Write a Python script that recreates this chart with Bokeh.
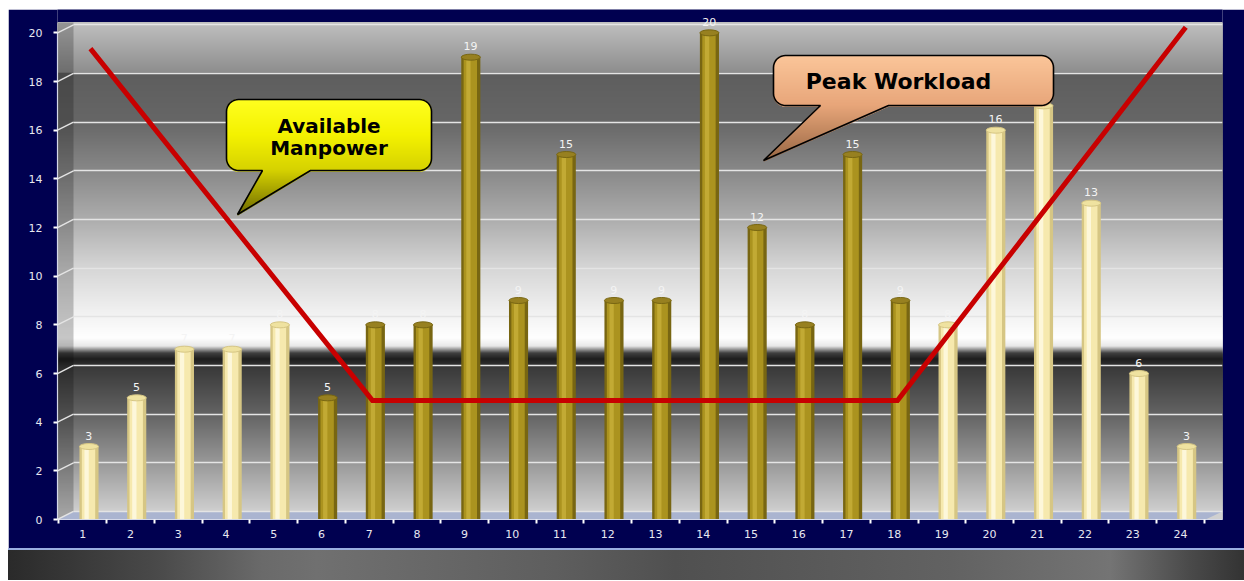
import numpy as np
from bokeh.plotting import figure
from bokeh.models import ColumnDataSource, Range1d, FixedTicker, LabelSet, Grid, Div
from bokeh.transform import dodge
from bokeh.layouts import column
from bokeh.core.properties import value
from bokeh.embed import file_html
from bokeh.resources import INLINE

# ---------------- data ----------------
hours = list(range(1, 25))
workload = [3, 5, 7, 7, 8, 5, 8, 8, 19, 9, 15, 9, 9, 20, 12, 8, 15, 9, 8, 16, 17, 13, 6, 3]
phase = ["off-peak"] * 5 + ["peak"] * 13 + ["off-peak"] * 6
manpower_x = [1.16, 7.07, 18.07, 24.11]
manpower_y = [19.35, 4.89, 4.89, 20.23]
y_ticks = list(range(0, 21, 2))

# ---------------- styles ----------------
NAVY = "#000050"
FONT = "DejaVu Sans"
edge_c = {"off-peak": "#d6c684", "peak": "#786612"}
main_c = {"off-peak": "#f6e9ae", "peak": "#ab931f"}
hi_c = {"off-peak": "#fdf7da", "peak": "#c2aa34"}
cap_c = {"off-peak": "#efe2a0", "peak": "#978020"}


def hex2rgb(c):
    return [int(c[1:3], 16), int(c[3:5], 16), int(c[5:7], 16)]


def interp_colors(stops, pts):
    sp = [s[0] for s in stops]
    rgb = np.array([hex2rgb(c) for _, c in stops], dtype=float)
    out = []
    for t in pts:
        r = np.interp(t, sp, rgb[:, 0])
        g = np.interp(t, sp, rgb[:, 1])
        b = np.interp(t, sp, rgb[:, 2])
        out.append("#%02x%02x%02x" % (int(r), int(g), int(b)))
    return out


W = 1236
H_MAIN = 539
H_BAND = 32
Y_TOP = 20.96

p = figure(width=W, height=H_MAIN, x_range=Range1d(0.47, 24.88), y_range=Range1d(0, Y_TOP),
           output_backend="svg", toolbar_location=None,
           min_border_left=49, min_border_right=22, min_border_top=0, min_border_bottom=29)
p.background_fill_color = NAVY
p.border_fill_color = NAVY
p.outline_line_color = None
p.extra_x_ranges = {"px": Range1d(57, 1222)}
p.extra_y_ranges = {"py": Range1d(519, 9), "back": Range1d(-0.33, Y_TOP - 0.33)}

# background metallic gradient (page-pixel coordinates)
bg_stops = [(22, "#c0c0c0"), (72, "#8e8e8e"), (73.5, "#5e5e5e"), (120, "#666666"),
            (170, "#888888"), (218, "#acacac"), (268, "#d6d6d6"), (317, "#f4f4f4"),
            (338, "#ffffff"), (346, "#e8e8e8"), (353, "#404040"), (359, "#1e1e1e"),
            (368, "#3a3a3a"), (415, "#646464"), (462, "#989898"), (512, "#d0d0d0"),
            (520, "#d0d0d0")]
ys = np.arange(22, 519, 1.0)
bg = ColumnDataSource(dict(top=ys, bottom=ys + 1.6, color=interp_colors(bg_stops, ys + 0.5)))
p.quad(left=57, right=1222, top="top", bottom="bottom", color="color", source=bg,
       x_range_name="px", y_range_name="py", level="image")
# left side wall
p.quad(left=57, right=73, top=22, bottom=519, fill_color="black", fill_alpha=0.22,
       line_color=None, x_range_name="px", y_range_name="py", level="image")
# floor
p.patch(x=[57, 1205, 1222, 73], y=[519, 519, 511, 511], fill_color="#aab4d0",
        line_color=None, x_range_name="px", y_range_name="py", level="underlay")

# back-wall grid
p.xgrid.visible = False
p.ygrid.visible = False
g = Grid(dimension=1, ticker=FixedTicker(ticks=y_ticks), y_range_name="back",
         grid_line_color="#e4e4e4", grid_line_width=1.6, cross_bounds=(0.805, 24.88))
p.add_layout(g)
p.segment(x0=57, x1=73, y0=y_ticks, y1=[v + 0.33 for v in y_ticks], line_color="#e4e4e4",
          line_width=1.4, x_range_name="px", level="underlay")

# bars (cylinders)
src = ColumnDataSource(dict(
    x=hours, top=workload, label=[str(v) for v in workload],
    edge=[edge_c[k] for k in phase], main=[main_c[k] for k in phase],
    hi=[hi_c[k] for k in phase], cap=[cap_c[k] for k in phase]))
p.vbar(x=dodge("x", 0.13, range=p.x_range), top="top", bottom=0, width=0.40,
       fill_color="edge", line_color=None, source=src)
p.vbar(x=dodge("x", 0.12, range=p.x_range), top="top", bottom=0, width=0.28,
       fill_color="main", line_color=None, source=src)
p.vbar(x=dodge("x", 0.08, range=p.x_range), top="top", bottom=0, width=0.09,
       fill_color="hi", line_color=None, source=src)
p.ellipse(x=dodge("x", 0.13, range=p.x_range), y="top", width=0.40, height=6,
          height_units="screen", fill_color="cap", line_color="edge", line_width=1,
          source=src)

# available manpower line
p.line(manpower_x, manpower_y, line_color="#c80000", line_width=5, line_join="miter")

# value labels
labels = LabelSet(x="x", y="top", text="label", source=src, x_offset=6, y_offset=7,
                  text_align="center", text_baseline="bottom", text_font_size="11px",
                  text_color="#f4f4f4", text_font=value(FONT))
p.add_layout(labels)


# callouts
def callout(L, R, T, B, r, tail_l, tail_r, tip, stops):
    rows_t, rows_b, rows_l, rows_r = [], [], [], []
    for y in np.arange(T, tip[1], 1.0):
        yy = y + 0.5
        if yy <= B:
            inset = 0.0
            if yy < T + r:
                d = T + r - yy
                inset = r - np.sqrt(max(r * r - d * d, 0))
            elif yy > B - r:
                d = yy - (B - r)
                inset = r - np.sqrt(max(r * r - d * d, 0))
            lft, rgt = L + inset, R - inset
        else:
            t = (yy - B) / (tip[1] - B)
            lft = tail_l + (tip[0] - tail_l) * t
            rgt = tail_r + (tip[0] - tail_r) * t
            if lft > rgt:
                lft, rgt = rgt, lft
        rows_t.append(y)
        rows_b.append(y + 1.6)
        rows_l.append(lft)
        rows_r.append(rgt)
    cs = ColumnDataSource(dict(top=rows_t, bottom=rows_b, left=rows_l, right=rows_r,
                               color=interp_colors(stops, np.array(rows_t) + 0.5)))
    p.quad(left="left", right="right", top="top", bottom="bottom", color="color", source=cs,
           x_range_name="px", y_range_name="py", level="overlay")
    ox, oy = [], []

    def arc(cx, cy, a0, a1):
        for a in np.linspace(a0, a1, 10):
            ox.append(cx + r * np.cos(a))
            oy.append(cy + r * np.sin(a))

    arc(L + r, T + r, np.pi, 1.5 * np.pi)
    arc(R - r, T + r, 1.5 * np.pi, 2 * np.pi)
    arc(R - r, B - r, 0, 0.5 * np.pi)
    ox.extend([tail_r, tip[0], tail_l])
    oy.extend([B, tip[1], B])
    arc(L + r, B - r, 0.5 * np.pi, np.pi)
    p.patch(x=ox, y=oy, fill_color=None, line_color="black", line_width=1.6,
            x_range_name="px", y_range_name="py", level="overlay")


callout(226, 431, 99, 170, 12, 262, 310, (237, 214),
        [(99, "#ffff20"), (135, "#f4f200"), (170, "#d6d200"), (214, "#706c00")])
callout(773, 1053, 55, 105, 12, 820, 888, (763, 160),
        [(55, "#fbc69a"), (105, "#e8a67a"), (160, "#9a6844")])

p.text(x=[328.5, 328.5], y=[125, 147], text=["Available", "Manpower"],
       x_range_name="px", y_range_name="py", text_align="center",
       text_baseline="alphabetic", text_font=value(FONT), text_font_style="bold",
       text_font_size="20px", text_color="black", level="overlay")
p.text(x=[898], y=[81], text=["Peak Workload"],
       x_range_name="px", y_range_name="py", text_align="center",
       text_baseline="alphabetic", text_font=value(FONT), text_font_style="bold",
       text_font_size="22px", text_color="black", level="overlay")

# axes
p.xaxis.ticker = FixedTicker(ticks=hours, minor_ticks=[h - 0.5 for h in hours] + [24.5])
p.yaxis.ticker = FixedTicker(ticks=y_ticks)
p.yaxis.bounds = (0, 20)
for ax in (p.xaxis[0], p.yaxis[0]):
    ax.axis_line_color = "#d4d8e8"
    ax.axis_line_width = 1.2
    ax.major_label_text_font = FONT
    ax.major_label_text_font_size = "11px"
    ax.major_label_text_color = "#e8e8f0"
p.xaxis.major_tick_line_color = None
p.xaxis.major_tick_out = 0
p.xaxis.major_tick_in = 0
p.xaxis.minor_tick_line_color = "white"
p.xaxis.minor_tick_line_width = 2
p.xaxis.minor_tick_out = 4
p.xaxis.minor_tick_in = 0
p.xaxis.major_label_standoff = 6
p.yaxis.major_tick_line_color = "white"
p.yaxis.major_tick_line_width = 2
p.yaxis.major_tick_out = 4
p.yaxis.major_tick_in = 0
p.yaxis.minor_tick_line_color = None
p.yaxis.major_label_standoff = 11

# bottom band (slide footer)
band_stops = [(8, "#2a2a2a"), (159, "#4a4a4a"), (262, "#6a6a6a"), (317, "#707070"),
              (555, "#5e5e5e"), (675, "#505050"), (754, "#555555"), (952, "#626262"),
              (1111, "#747474"), (1190, "#4a4a4a"), (1244, "#333333")]
grad = ", ".join("%s %.1f%%" % (c, (x - 8) / 1236 * 100) for x, c in band_stops)
band = Div(text="", width=W, height=H_BAND, margin=0,
           styles={"background": "linear-gradient(to right, %s)" % grad,
                   "border-top": "2px solid #9aaee0", "box-sizing": "border-box"})

layout = column(p, band, margin=(9, 0, 0, 8), spacing=0)
open("out.html", "w").write(file_html(layout, INLINE))
